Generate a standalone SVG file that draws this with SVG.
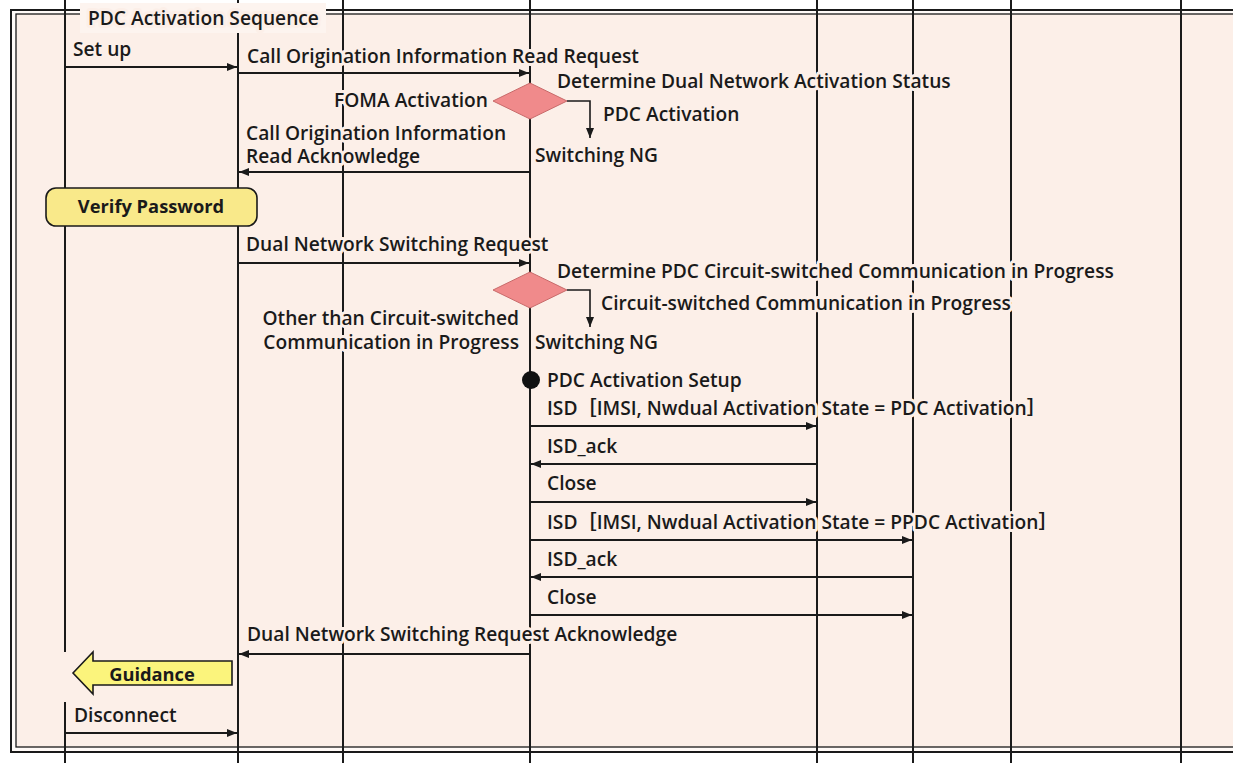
<svg xmlns="http://www.w3.org/2000/svg" width="1233" height="763" viewBox="0 0 1233 763">
<defs>
<style>
.life{stroke:#1a1a1a;stroke-width:2;fill:none}
.msg{stroke:#1a1a1a;stroke-width:2;fill:none;marker-end:url(#ah)}
.br{stroke:#1a1a1a;stroke-width:1.6;fill:none;marker-end:url(#ahd)}
.t{font-family:'Open Sans','Noto Sans','Liberation Sans','Noto Sans CJK JP',sans-serif;font-weight:600;font-size:19.2px;fill:#1a1a1a;paint-order:stroke;stroke:#fcefe8;stroke-width:6px;stroke-linejoin:round}
.tb{font-family:'Open Sans','Liberation Sans',sans-serif;font-weight:700;font-size:18.3px;fill:#1a1a1a;text-anchor:middle}
.dia{fill:#f08a8b;stroke:#c86a6a;stroke-width:1}
</style>
<marker id="ah" viewBox="0 0 10 8" refX="10" refY="4" markerWidth="10" markerHeight="8" markerUnits="userSpaceOnUse" orient="auto"><path d="M0,0 L10,4 L0,8 Z" fill="#1a1a1a"/></marker>
<marker id="ahd" viewBox="0 0 10 8" refX="10" refY="4" markerWidth="10" markerHeight="8" markerUnits="userSpaceOnUse" orient="auto"><path d="M0,0 L10,4 L0,8 Z" fill="#1a1a1a"/></marker>
</defs>
<rect width="1233" height="763" fill="#ffffff"/>
<g id="frame">
<rect x="11" y="10" width="1240" height="742" fill="#fffaf7" stroke="#1a1a1a" stroke-width="2"/>
<rect x="16" y="14" width="1240" height="733" fill="#fcefe8" stroke="#1a1a1a" stroke-width="1.3"/>
</g>
<g id="lifelines">
<line class="life" x1="65" y1="0" x2="65" y2="763"/>
<line class="life" x1="238" y1="0" x2="238" y2="763"/>
<line class="life" x1="343" y1="0" x2="343" y2="763"/>
<line class="life" x1="530" y1="0" x2="530" y2="763"/>
<line class="life" x1="817" y1="0" x2="817" y2="763"/>
<line class="life" x1="913" y1="0" x2="913" y2="763"/>
<line class="life" x1="1011" y1="0" x2="1011" y2="763"/>
<line class="life" x1="1181" y1="0" x2="1181" y2="763"/>
</g>
<g id="title">
<rect x="80" y="3" width="246" height="30" fill="#fdf4ef"/>
<text class="t" x="88" y="25">PDC Activation Sequence</text>
</g>
<g id="connectors">
<line class="msg" x1="65" y1="67" x2="237" y2="67"/>
<line class="msg" x1="238" y1="73" x2="529" y2="73"/>
<path class="br" d="M567,101 H590 V138"/>
<line class="msg" x1="530" y1="172" x2="239" y2="172"/>
<line class="msg" x1="238" y1="263" x2="529" y2="263"/>
<path class="br" d="M567,290 H590 V327"/>
<line class="msg" x1="530" y1="426" x2="816" y2="426"/>
<line class="msg" x1="817" y1="464" x2="531" y2="464"/>
<line class="msg" x1="530" y1="502" x2="816" y2="502"/>
<line class="msg" x1="530" y1="540" x2="912" y2="540"/>
<line class="msg" x1="913" y1="577" x2="531" y2="577"/>
<line class="msg" x1="530" y1="615" x2="912" y2="615"/>
<line class="msg" x1="530" y1="654" x2="239" y2="654"/>
<line class="msg" x1="65" y1="733" x2="237" y2="733"/>
</g>
<g id="decision1">
<polygon class="dia" points="530,83 567,101 530,119 493,101"/>
</g>
<g id="decision2">
<polygon class="dia" points="530,272 567,290 530,308 493,290"/>
</g>
<g id="start-dot">
<circle cx="531" cy="380" r="9" fill="#111"/>
</g>
<g id="verify-password">
<rect x="46" y="188" width="211" height="38" rx="10" fill="#f9e98a" stroke="#1a1a1a" stroke-width="1.6"/>
<text class="tb" x="151" y="213">Verify Password</text>
</g>
<g id="guidance">
<rect x="57" y="652" width="14" height="50" fill="#fcefe8"/>
<polygon points="73,673 93,652 93,661 232,661 232,685 93,685 93,694" fill="#fbf47c" stroke="#1a1a1a" stroke-width="1.6" stroke-linejoin="miter"/>
<text class="tb" x="152" y="681">Guidance</text>
</g>
<g id="labels">
<text class="t" x="73" y="56">Set up</text>
<text class="t" x="247" y="63">Call Origination Information Read Request</text>
<text class="t" x="557" y="88">Determine Dual Network Activation Status</text>
<text class="t" x="488" y="107" text-anchor="end">FOMA Activation</text>
<text class="t" x="603" y="121">PDC Activation</text>
<text class="t" x="246" y="140"><tspan x="246" y="140">Call Origination Information</tspan><tspan x="246" y="163">Read Acknowledge</tspan></text>
<text class="t" x="535" y="162">Switching NG</text>
<text class="t" x="246" y="251">Dual Network Switching Request</text>
<text class="t" x="557" y="278">Determine PDC Circuit-switched Communication in Progress</text>
<text class="t" x="601" y="310">Circuit-switched Communication in Progress</text>
<text class="t" x="519" y="325" text-anchor="end"><tspan x="519" y="325">Other than Circuit-switched</tspan><tspan x="519" y="349">Communication in Progress</tspan></text>
<text class="t" x="535" y="349">Switching NG</text>
<text class="t" x="547" y="387">PDC Activation Setup</text>
<text class="t" x="547" y="415">ISD［IMSI, Nwdual Activation State = PDC Activation］</text>
<text class="t" x="547" y="453">ISD_ack</text>
<text class="t" x="547" y="490">Close</text>
<text class="t" x="547" y="529">ISD［IMSI, Nwdual Activation State = PPDC Activation］</text>
<text class="t" x="547" y="566">ISD_ack</text>
<text class="t" x="547" y="604">Close</text>
<text class="t" x="247" y="641">Dual Network Switching Request Acknowledge</text>
<text class="t" x="74" y="722">Disconnect</text>
</g>
</svg>
